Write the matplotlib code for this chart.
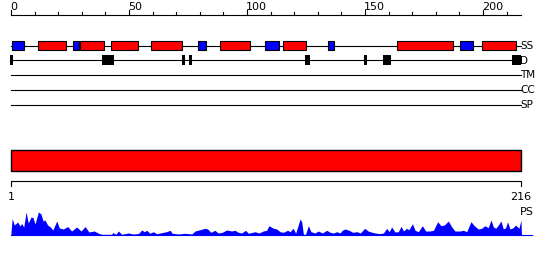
"""Protein feature track plot (SS, D, TM, CC, SP, PS)."""

import matplotlib

matplotlib.use("Agg")

import matplotlib.pyplot as plt
from matplotlib.patches import Rectangle

seq_len = 216
ruler_ticks = list(range(0, 211, 10))
ruler_labels = [0, 50, 100, 150, 200]

# secondary structure segments (start, end) in residue units
helix_segments = [(11.6, 23.4), (29.4, 39.5), (42.5, 53.7), (59.5, 72.6),
                  (88.7, 101.4), (115.4, 124.9), (163.7, 187.4), (199.7, 213.9)]
strand_segments = [(0.55, 5.6), (26.4, 28.7), (79.4, 82.5), (107.8, 113.7),
                   (134.5, 136.7), (190.3, 195.6)]
disorder_segments = [(-0.4, 0.7), (38.6, 43.6), (72.5, 73.9), (75.3, 76.7),
                     (124.7, 126.7), (149.6, 151.0), (157.8, 160.9), (212.4, 216.0)]
track_names = ["SS", "D", "TM", "CC", "SP"]

# PS profile
ps_pos = [0, 0.5, 1.4, 2.8, 3.8, 4.5, 5.4, 6.4, 7.3, 8.5, 9.3, 10.2, 11.6, 12.7,
          13.6, 14.4, 15.5, 16.7, 17.7, 19.4, 20.5, 22.2, 24, 25.7, 27.8, 29.7,
          31.4, 33, 35.3, 37.3, 38.5, 42.7, 43.1, 44.4, 45.5, 46.9, 49.7, 51.8,
          54, 55.4, 56.5, 57.5, 58.9, 60.3, 61.7, 63.8, 65.9, 67.4, 68.3, 70.9,
          73.7, 76.6, 78, 80.1, 82.2, 83.3, 84.7, 86.4, 87.8, 89.5, 91.4, 93.5,
          94.9, 96.3, 97.7, 99.4, 100.6, 103.4, 105.1, 106.9, 108.3, 109.3,
          111.2, 112.6, 114, 115.4, 117.2, 118.2, 119.6, 120.6, 122.5, 123.2,
          123.9, 124.8, 126, 127.1, 128.8, 130.2, 131.9, 133.8, 135.2, 136.6,
          138, 139.4, 140.4, 141.5, 143, 144.8, 146.6, 148, 149.9, 151.3, 153,
          154.4, 156.3, 157.8, 159.2, 160.2, 161.3, 162.7, 164.1, 165.3, 166.3,
          167.6, 168.6, 170.1, 171.2, 172.6, 174.3, 175.7, 177.5, 179, 180.8,
          182.2, 183.6, 185.3, 186.7, 188.1, 190.3, 191.7, 193.1, 194.9, 196.3,
          198, 199.4, 200.8, 202.2, 203.4, 204.4, 205.4, 206.5, 207.6, 208.6,
          209.6, 210.4, 211.4, 212.8, 213.8, 215.2, 216.1, 216.3]
ps_val = [3, 16.5, 10, 13, 9, 11.5, 8, 23, 12, 18, 17.5, 11, 23, 21,
          14, 15, 10, 8, 5, 14, 7, 6, 8.5, 4, 8, 4,
          8.5, 3, 4, 1.5, 0.7, 0.7, 2.5, 0.7, 4, 0.7, 2, 1,
          1.5, 5, 3.3, 4.7, 1.7, 3.3, 1.3, 2.3, 3.3, 4.7, 1.7, 1,
          1.7, 1, 4, 5.3, 6.7, 6, 2.7, 4.7, 2, 2.7, 5, 4,
          4.7, 2.7, 2, 4.7, 1.7, 3.3, 2, 4, 4.7, 9.3,
          6.7, 6, 3.3, 2.7, 4.7, 3.3, 6.7, 1.7, 16, 13,
          0.7, 0.7, 9.3, 3.3, 2, 4, 2, 4.7, 2.7, 2,
          3.3, 2, 4.7, 6, 5, 2.7, 3.3, 2, 6.7, 4, 2.7,
          2, 1.3, 2, 6.7, 3.3, 8, 3, 3.3, 8.7, 4,
          6.7, 5.3, 11.3, 4.7, 3.3, 9.3, 4, 4, 4.7, 13.3,
          9.3, 10, 14, 8.3, 4, 4, 4.7, 3.3, 13.3, 9.3,
          6, 6.7, 9.3, 7.3, 15, 8, 6.7, 10, 14, 6,
          7.3, 13.3, 6, 7.3, 10, 6.7, 15, 0]

RED = "#ff0000"
BLUE = "#0000ff"
LW = 0.8

fig = plt.figure(figsize=(5.5, 2.6), dpi=100)
ax = fig.add_axes([0, 0, 1, 1])
ax.set_xlim(-11 / 2.36, 539 / 2.36)
ax.set_ylim(260, 0)
ax.axis("off")

# top ruler
ax.plot([0, seq_len], [14.7, 14.7], color="black", lw=LW)
for t in ruler_ticks:
    top = 10 if t in ruler_labels else 11.7
    ax.plot([t, t], [top, 14.7], color="black", lw=LW)
for t in ruler_labels:
    ax.text(t - 0.3, 9.6, str(t), ha="left", va="baseline", fontsize=8)

# tracks
track_y = [45.5, 60.3, 75, 90, 105]
for name, y in zip(track_names, track_y):
    ax.plot([0, seq_len], [y, y], color="black", lw=LW, zorder=1)
    ax.text(seq_len - 0.3, y + 0.3, name, ha="left", va="center", fontsize=7.5)

for start, end in helix_segments:
    ax.add_patch(Rectangle((start, 40.7), end - start, 9.6, facecolor=RED,
                           edgecolor="black", lw=LW, zorder=2))
for start, end in strand_segments:
    ax.add_patch(Rectangle((start, 40.7), end - start, 9.6, facecolor=BLUE,
                           edgecolor="black", lw=LW, zorder=2))
for start, end in disorder_segments:
    ax.add_patch(Rectangle((start, 55.2), end - start, 10.3, facecolor="black",
                           edgecolor="black", lw=0, zorder=2))

# full-length bar
ax.add_patch(Rectangle((0, 150), seq_len, 20.7, facecolor=RED,
                       edgecolor="black", lw=1.0))

# bottom ruler
ax.plot([0, 0, seq_len, seq_len], [185.5, 180.7, 180.7, 185.5], color="black", lw=LW)
ax.text(0, 200.5, "1", ha="center", va="baseline", fontsize=8)
ax.text(seq_len, 200.5, str(seq_len), ha="center", va="baseline", fontsize=8)
ax.text(seq_len - 0.2, 214.8, "PS", ha="left", va="baseline", fontsize=8)

# PS profile
base = 235
ax.fill_between(ps_pos, [base] * len(ps_pos), [base - v for v in ps_val],
                color=BLUE, lw=0)
ax.plot([0, 220.6], [base - 0.5, base - 0.5], color=BLUE, lw=LW)

fig.savefig("out.png", dpi=100)
plt.close(fig)
